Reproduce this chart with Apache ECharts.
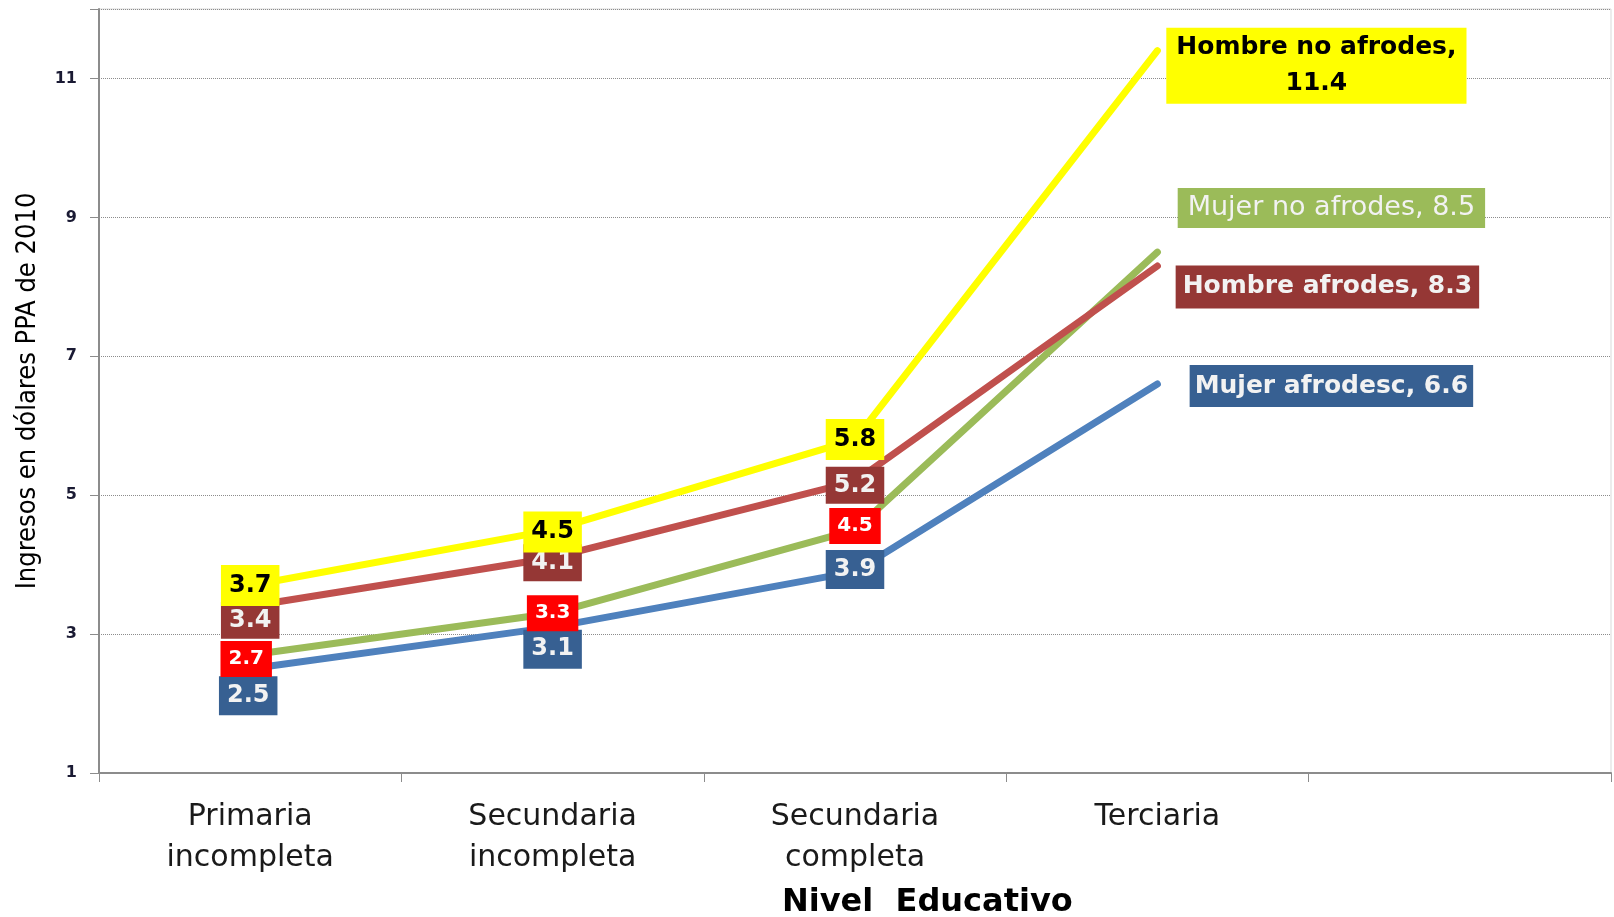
<!DOCTYPE html>
<html>
<head>
<meta charset="utf-8">
<script src="https://cdn.jsdelivr.net/npm/echarts@6/dist/echarts.min.js"></script>
<style>
html,body{margin:0;padding:0;background:#fff;}
#chart{width:1614px;height:917px;}
</style>
</head>
<body>
<div id="chart"></div>
<script>
// ---- data ----
const categories = ['Primaria\nincompleta', 'Secundaria\nincompleta', 'Secundaria\ncompleta', 'Terciaria', ''];
const seriesNames = ['Mujer afrodesc', 'Mujer no afrodes', 'Hombre afrodes', 'Hombre no afrodes'];
const mujerAfrodesc = [2.5, 3.1, 3.9, 6.6];
const mujerNoAfrodes = [2.7, 3.3, 4.5, 8.5];
const hombreAfrodes = [3.4, 4.1, 5.2, 8.3];
const hombreNoAfrodes = [3.7, 4.5, 5.8, 11.4];
const yMin = 1, yMax = 12, yInterval = 2;
const yAxisTitle = 'Ingresos en dólares PPA de 2010';
const xAxisTitle = 'Nivel  Educativo';

// ---- styles (not data) ----
const styles = [
  { line: '#4F81BD', bg: '#376092', color: '#F2F2F2', size: 24, lh: 29, pad: [5, 8],
    offsets: [[-2, 27], [0, 22], [0, -2]],
    end: { bg: '#376092', color: '#F2F2F2', weight: 'bold', size: 25, lh: 32, pad: [5, 5], offset: [174, 2], sep: ', ' } },
  { line: '#9BBB59', bg: '#FF0000', color: '#FFFFFF', size: 20, lh: 24, pad: [6, 8],
    offsets: [[-4, 4], [0, 0], [0, -4]],
    end: { bg: '#9BBB59', color: '#F2F2F2', weight: 'normal', size: 27, lh: 32, pad: [4, 10], offset: [174, -44], sep: ', ' } },
  { line: '#C0504D', bg: '#953735', color: '#F2F2F2', size: 24, lh: 29, pad: [4, 8],
    offsets: [[0, 14], [0, 5], [0, 4]],
    end: { bg: '#953735', color: '#F2F2F2', weight: 'bold', size: 25, lh: 33, pad: [5, 7], offset: [170, 21], sep: ', ' } },
  { line: '#FFFF00', bg: '#FFFF00', color: '#000000', size: 24, lh: 29, pad: [6, 8],
    offsets: [[0, 0], [0, 2], [0, 0]],
    end: { bg: '#FFFF00', color: '#000000', weight: 'bold', size: 25, lh: 36, pad: [2, 10], offset: [159, 15], sep: ',\n' } }
];
const values = [mujerAfrodesc, mujerNoAfrodes, hombreAfrodes, hombreNoAfrodes];
const FONT = '"DejaVu Sans", Verdana, sans-serif';

const series = values.map((vals, s) => {
  const st = styles[s];
  const name = seriesNames[s];
  return {
    name: name,
    type: 'line',
    symbol: 'circle',
    symbolSize: 2,
    itemStyle: { color: st.line },
    lineStyle: { color: st.line, width: 7, cap: 'round', join: 'round' },
    emphasis: { disabled: true },
    z: 2 + s,
    data: vals.map((v, i) => {
      if (i === vals.length - 1) {
        const e = st.end;
        return {
          value: v,
          label: {
            show: true, position: 'inside', align: 'center', verticalAlign: 'middle',
            offset: e.offset,
            formatter: name + e.sep + v.toFixed(1),
            backgroundColor: e.bg, color: e.color, fontWeight: e.weight,
            fontSize: e.size, lineHeight: e.lh, padding: e.pad, fontFamily: FONT
          }
        };
      }
      return {
        value: v,
        label: {
          show: true, position: 'inside', align: 'center', verticalAlign: 'middle',
          offset: st.offsets[i],
          formatter: v.toFixed(1),
          backgroundColor: st.bg, color: st.color, fontWeight: 'bold',
          fontSize: st.size, lineHeight: st.lh, padding: st.pad, fontFamily: FONT
        }
      };
    })
  };
});

const chart = echarts.init(document.getElementById('chart'), null, { renderer: 'canvas' });
chart.setOption({
  animation: false,
  backgroundColor: '#ffffff',
  title: {
    text: xAxisTitle,
    left: 777, top: 882,
    textStyle: { fontFamily: FONT, fontWeight: 'bold', fontSize: 32, color: '#000' }
  },
  grid: {
    left: 99, right: 3, top: 9, bottom: 144,
    show: true, borderColor: '#D9D9D9', borderWidth: 1, backgroundColor: 'transparent'
  },
  xAxis: {
    type: 'category',
    data: categories,
    boundaryGap: true,
    axisLine: { lineStyle: { color: '#8C8C8C', width: 2 } },
    axisTick: { show: true, length: 9, alignWithLabel: false, lineStyle: { color: '#8C8C8C', width: 1 } },
    axisLabel: {
      interval: 0, margin: 24, fontFamily: FONT, fontSize: 30, lineHeight: 41, color: '#1A1A1A'
    },
    splitLine: { show: false }
  },
  yAxis: {
    type: 'value',
    min: yMin, max: yMax, interval: yInterval,
    name: yAxisTitle,
    nameLocation: 'middle',
    nameGap: 58,
    nameRotate: 90,
    nameTextStyle: { fontFamily: '"DejaVu Sans Condensed", "DejaVu Sans", sans-serif', fontSize: 27, color: '#000' },
    axisLine: { show: true, lineStyle: { color: '#8C8C8C', width: 2 } },
    axisTick: { show: true, length: 9, lineStyle: { color: '#8C8C8C' } },
    axisLabel: {
      margin: 22, fontFamily: FONT, fontSize: 16, fontWeight: 'bold', color: '#1A1A33',
      formatter: v => (v === yMax ? '' : String(v))
    },
    splitLine: { show: true, lineStyle: { color: '#8C8C8C', type: 'dotted', width: 1 } }
  },
  series: series
});
</script>
</body>
</html>
